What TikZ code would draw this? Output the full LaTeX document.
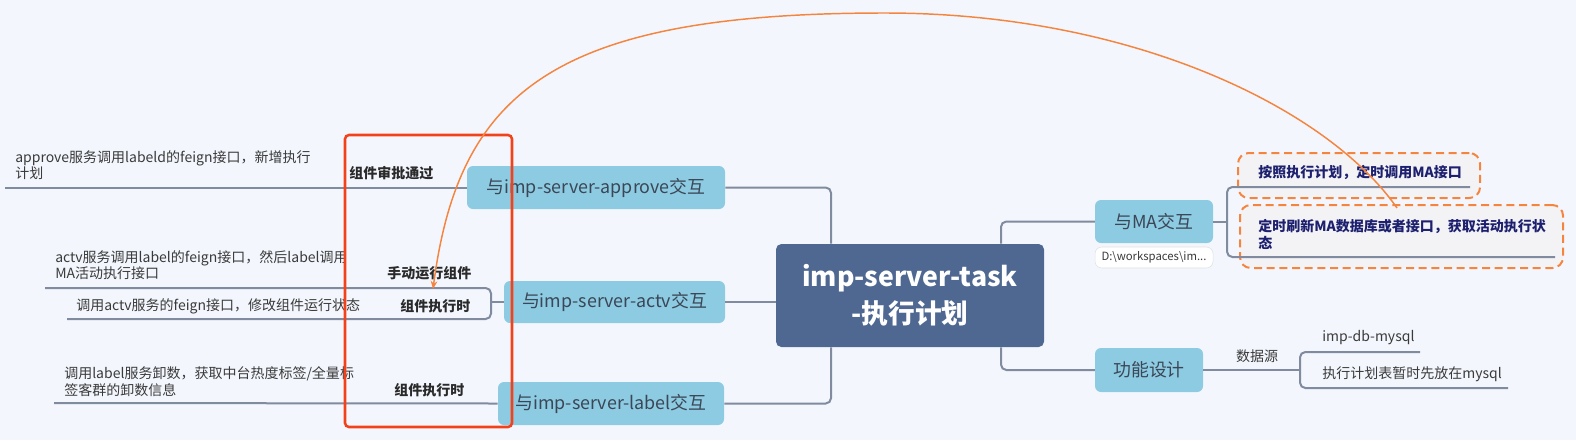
\documentclass[tikz,border=0pt]{standalone}
\usepackage{fontspec}
\setmainfont{Noto Sans CJK SC}
\usetikzlibrary{arrows.meta}
\definecolor{bg}{HTML}{F3F7FD}
\definecolor{topicblue}{HTML}{8CCBE1}
\definecolor{topictext}{HTML}{3B4656}
\definecolor{ctrblue}{HTML}{4F6891}
\definecolor{linegray}{HTML}{808B9F}
\definecolor{textdark}{HTML}{3A3A3A}
\definecolor{boldtext}{HTML}{2A2A2A}
\definecolor{navy}{HTML}{1D206E}
\definecolor{redbox}{HTML}{F2421B}
\definecolor{orangeline}{HTML}{F5843F}
\definecolor{dashfill}{HTML}{F3F3F6}
\begin{document}
\begin{tikzpicture}[x=0.75pt,y=-0.75pt,
  topic/.style={fill=topicblue, rounded corners=4.5pt, inner sep=0pt, text=topictext, font=\fontsize{13.4}{16}\selectfont},
  central/.style={fill=ctrblue, rounded corners=4pt, inner sep=0pt, text=white, align=center, font=\fontsize{20}{28}\selectfont\bfseries},
  conn/.style={draw=linegray, line width=1.5pt, rounded corners=4pt},
  txt/.style={anchor=west, inner sep=0pt, text=textdark, align=left, font=\fontsize{10.5}{12.4}\selectfont},
  btxt/.style={anchor=west, inner sep=0pt, text=boldtext, font=\fontsize{10.5}{12.4}\selectfont\bfseries},
  ntxt/.style={anchor=west, inner sep=0pt, text=navy, align=left, font=\fontsize{10.5}{12.4}\selectfont\bfseries},
  dashbox/.style={draw=orangeline, fill=dashfill, line width=1.5pt, dash pattern=on 6pt off 3.5pt, rounded corners=8pt, inner sep=0pt}
]
\useasboundingbox[fill=bg] (0,0) rectangle (1576,440);

% coordinates
\coordinate (jL) at (831,0);
\coordinate (jR) at (1001,0);
\coordinate (apEnd) at (5,187.5);
\coordinate (avTop) at (491,288);
\coordinate (avBot) at (491,319);
\coordinate (avMid) at (491,302);
\coordinate (avTopEnd) at (45,288);
\coordinate (avBotEnd) at (67,319);
\coordinate (lbEnd) at (54,403);
\coordinate (maJ) at (1227,221.5);
\coordinate (maTop) at (1227,187);
\coordinate (maBot) at (1227,257);
\coordinate (maTopEnd) at (1470,187);
\coordinate (maBotEnd) at (1555,257);
\coordinate (fnJ) at (1300,370);
\coordinate (fnTop) at (1300,352);
\coordinate (fnBot) at (1300,388);
\coordinate (fnTopEnd) at (1420,352);
\coordinate (fnBotEnd) at (1508,388);
\coordinate (arcS) at (1397,208);
\coordinate (arcE) at (433,289);

% dashed boxes (behind lines)
\node[dashbox, minimum width=181.5pt, minimum height=33.75pt] (db1) at (1359,175.5) {};
\node[dashbox, minimum width=242.25pt, minimum height=47.25pt] (db2) at (1401.5,236.5) {};

% main nodes
\node[central, minimum width=201pt, minimum height=77.25pt] (c) at (910,295.5) {imp-server-task\\-执行计划};
\node[topic, minimum width=193.5pt, minimum height=32.25pt] (ap) at (596,187.5) {与imp-server-approve交互};
\node[topic, minimum width=165.75pt, minimum height=31.5pt] (av) at (614.5,302) {与imp-server-actv交互};
\node[topic, minimum width=169.5pt, minimum height=32.25pt] (lb) at (611,403.5) {与imp-server-label交互};
\node[topic, minimum width=88.5pt, minimum height=32.25pt] (ma) at (1154,221.5) {与MA交互};
\node[draw=black!12, fill=white, rounded corners=5pt, inner sep=0pt, minimum width=88.5pt, minimum height=15.75pt, text=textdark, font=\fontsize{8.5}{10}\selectfont] (dw) at (1154,257.5) {D:\textbackslash workspaces\textbackslash im...};
\node[topic, minimum width=81pt, minimum height=33pt] (fn) at (1149,370) {功能设计};

% connectors from center
\draw[conn] (ap.east) -| (c.north -| jL);
\draw[conn] (lb.east) -| (c.south -| jL);
\draw[conn] (av.east) -- (c.west |- av.east);
\draw[conn] (c.north -| jR) |- (ma.west);
\draw[conn] (c.south -| jR) |- (fn.west);

% left branches
\draw[conn] (ap.west) -- (apEnd);
\draw[conn] (av.west) -- (avMid);
\draw[conn] (avTopEnd) -- (avTop) -- (avBot) -- (avBotEnd);
\draw[conn] (lb.west) -- (lbEnd);

% right branches
\draw[conn] (ma.east) -- (maJ);
\draw[conn] (maTopEnd) -- (maTop) -- (maBot) -- (maBotEnd);
\draw[conn] (fn.east) -- (fnJ);
\draw[conn] (fnTopEnd) -- (fnTop) -- (fnBot) -- (fnBotEnd);

% left texts
\node[txt] (t1) at (15,165) {approve服务调用labeld的feign接口，新增执行\\计划};
\node[btxt] (b1) at (349,173) {组件审批通过};
\node[txt] (t2) at (55,265) {actv服务调用label的feign接口，然后label调用\\MA活动执行接口};
\node[btxt] (b2) at (387,273) {手动运行组件};
\node[txt] (t3) at (76,306) {调用actv服务的feign接口，修改组件运行状态};
\node[btxt] (b3) at (400,306) {组件执行时};
\node[txt] (t4) at (64,381.5) {调用label服务卸数，获取中台热度标签/全量标\\签客群的卸数信息};
\node[btxt] (b4) at (394,390) {组件执行时};

% right texts
\node[ntxt] (n1) at (1258,173) {按照执行计划，定时调用MA接口};
\node[ntxt] (n2) at (1258,234.5) {定时刷新MA数据库或者接口，获取活动执行状\\态};
\node[txt, anchor=center] (ds) at (1257,356) {数据源};
\node[txt] (m1) at (1322,338) {imp-db-mysql};
\node[txt] (m2) at (1322,374) {执行计划表暂时先放在mysql};

% red highlight
\draw[draw=redbox, line width=1.9pt, rounded corners=3pt] (345,135) rectangle (512,427);

% orange arc
\draw[draw=orangeline, line width=1.1pt, -{Stealth[length=6pt,width=5pt]}]
  (arcS) .. controls (1329,110) and (1135,13) .. (885,13)
  .. controls (555,13) and (459,91) .. (arcE);
\end{tikzpicture}
\end{document}
